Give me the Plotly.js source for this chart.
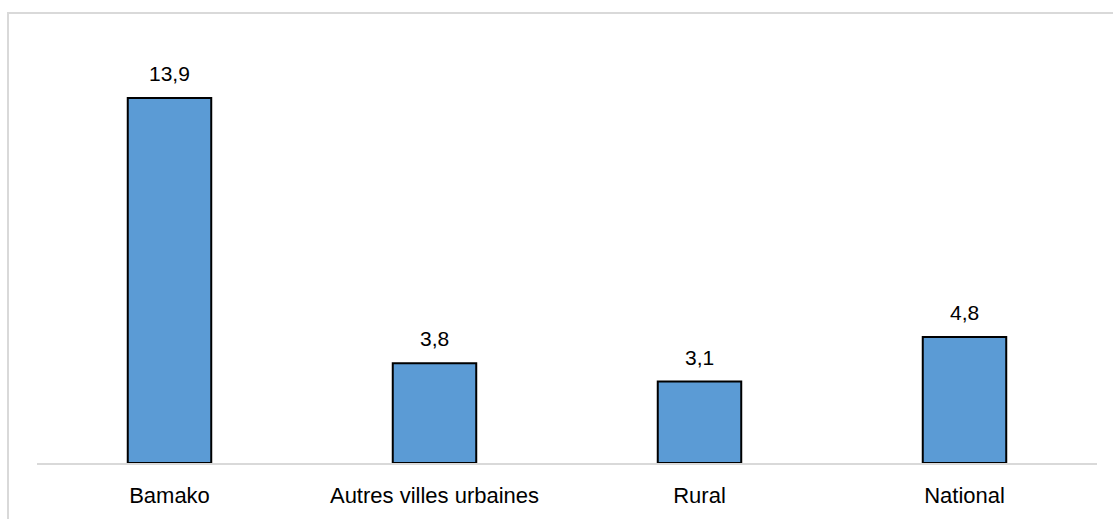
<!DOCTYPE html>
<html>
<head>
<meta charset="utf-8">
<script src="https://cdn.plot.ly/plotly-3.0.1.min.js"></script>
<style>
  html, body { margin: 0; padding: 0; background: #fff; }
  #wrap { position: relative; width: 1113px; height: 519px; }
  #chart { width: 1113px; height: 519px; }
  #frame { position: absolute; left: 7px; top: 12px; right: 0; bottom: 0;
           border-top: 2px solid #d9d9d9; border-left: 2px solid #d9d9d9; pointer-events: none; }
</style>
</head>
<body>
<div id="wrap">
  <div id="chart"></div>
  <div id="frame"></div>
</div>
<script>
const categories = ["Bamako", "Autres villes urbaines", "Rural", "National"];
const values = [13.9, 3.8, 3.1, 4.8];
const valueLabels = ["13,9", "3,8", "3,1", "4,8"];

const fontFam = '"Liberation Sans", Arial, sans-serif';

const trace = {
  type: "bar",
  x: categories,
  y: values,
  cliponaxis: false,
  marker: { color: "#5b9bd5", line: { color: "#000", width: 2 } },
  width: 0.315,
  hoverinfo: "skip"
};

const annotations = categories.map((c, i) => ({
  x: c, y: values[i], xref: "x", yref: "y",
  text: valueLabels[i], showarrow: false,
  yanchor: "bottom", yshift: 11,
  font: { family: fontFam, size: 21, color: "#000" }
}));

const layout = {
  width: 1113,
  height: 519,
  margin: { l: 37, r: 16, t: 56, b: 56 },
  paper_bgcolor: "#fff",
  plot_bgcolor: "#fff",
  showlegend: false,
  font: { family: fontFam, size: 22, color: "#000" },
  annotations: annotations,
  xaxis: {
    showline: true, linecolor: "#d9d9d9", linewidth: 2,
    showgrid: false, zeroline: false, ticks: "",
    ticklabelstandoff: 12,
    tickfont: { family: fontFam, size: 22, color: "#000" }
  },
  yaxis: {
    range: [0, 15.5], visible: false, showgrid: false, zeroline: false
  }
};

Plotly.newPlot("chart", [trace], layout, { displayModeBar: false, staticPlot: true });
</script>
</body>
</html>
